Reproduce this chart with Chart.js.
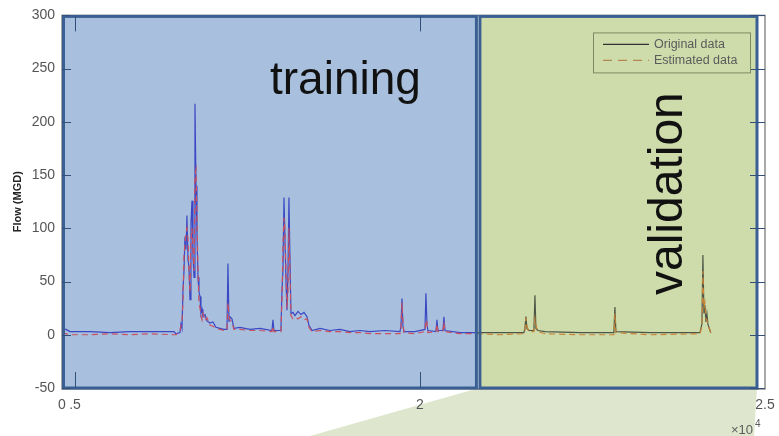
<!DOCTYPE html>
<html>
<head>
<meta charset="utf-8">
<script src="https://cdn.jsdelivr.net/npm/chart.js@4.4.0/dist/chart.umd.min.js"></script>
<style>
  html, body { margin: 0; padding: 0; background: #fff; }
  #wrap { width: 779px; height: 436px; }
</style>
</head>
<body>
<div id="wrap"><canvas id="flow-chart" width="779" height="436"></canvas></div>
<script>
// Sample index (x) and flow values
const sampleIndex = [
  14812, 14870, 14928, 15218, 15508, 15797, 16087, 16435, 16464, 16522,
  16536, 16551, 16565, 16580, 16594, 16609, 16623, 16638, 16652, 16667,
  16681, 16696, 16710, 16725, 16739, 16754, 16768, 16783, 16797, 16812,
  16826, 16841, 16855, 16884, 16913, 16957, 17000, 17043, 17101, 17159,
  17203, 17217, 17232, 17246, 17275, 17304, 17391, 17536, 17681, 17855,
  17869, 17884, 17985, 18000, 18014, 18029, 18043, 18058, 18072, 18087,
  18101, 18116, 18130, 18159, 18188, 18232, 18275, 18319, 18362, 18391,
  18435, 18550, 18695, 18840, 18985, 19130, 19275, 19492, 19710, 19724,
  19739, 19753, 19768, 19927, 20072, 20086, 20101, 20115, 20231, 20246,
  20260, 20333, 20347, 20362, 20579, 20825, 21159, 21506, 21521, 21535,
  21550, 21579, 21651, 21666, 21680, 21709, 21811, 22318, 22810, 22825,
  22839, 23332, 24057, 24086, 24100, 24115, 24129, 24144, 24158, 24173,
  24202, 24216
];
const originalFlow = [
  5, 5, 3, 3, 2, 3, 3, 3, 1, 2,
  10, 6, 42, 60, 92, 80, 112, 70, 64, 33,
  105, 126, 73, 54, 217, 140, 95, 54, 40, 36,
  20, 24, 17, 19, 13, 11, 12, 7, 6, 5,
  5, 67, 12, 17, 15, 6, 7, 5, 6, 4,
  14, 4, 4, 42, 60, 129, 90, 51, 23, 60,
  129, 70, 20, 21, 18, 22, 19, 21, 17, 9,
  4, 6, 4, 5, 3, 4, 3, 4, 3, 8,
  34, 8, 3, 3, 5, 39, 10, 4, 3, 14,
  4, 4, 17, 4, 2, 2, 2, 2, 6, 17,
  6, 4, 4, 37, 6, 4, 3, 2, 2, 26,
  3, 2, 2, 10, 75, 20, 28, 12, 20, 10,
  4, 2
];
const estimatedFlow = [
  1, 1, 0, 0, 1, 0, 1, 0, 0, 4,
  8, 12, 30, 75, 85, 96, 100, 90, 60, 40,
  90, 100, 80, 60, 150, 155, 110, 60, 30, 25,
  18, 14, 20, 13, 16, 9, 8, 6, 5, 4,
  4, 30, 18, 14, 12, 5, 5, 4, 4, 3,
  8, 3, 3, 35, 80, 110, 100, 60, 25, 40,
  100, 60, 18, 15, 16, 15, 17, 14, 15, 7,
  3, 4, 3, 3, 2, 2, 1, 1, 1, 5,
  30, 12, 2, 1, 3, 14, 12, 2, 3, 10,
  3, 3, 12, 3, 1, 1, 0, 1, 4, 16,
  8, 3, 3, 15, 9, 3, 1, 0, 0, 20,
  2, 0, 1, 8, 60, 25, 30, 15, 14, 8,
  5, 1
];
const seriesNames = ['Original data', 'Estimated data'];
const regionNames = ['training', 'validation'];
const splitIndex = 20825;
const xTickValues = [14812, 15000, 20000, 25000];
const xTickLabels = ['0', '.5', '2', '2.5'];
const yTickValues = [-50, 0, 50, 100, 150, 200, 250, 300];

const FONT = '"Liberation Sans", Arial, sans-serif';
const BORDER_BLUE = '#3a5f92';

const toPoints = values => values.map((v, i) => ({ x: sampleIndex[i], y: v }));
const inTraining = ctx => ctx.p0.parsed.x < splitIndex;

const panels = {
  id: 'panels',
  beforeDraw(chart) {
    const { ctx, chartArea: a, scales: { x } } = chart;
    const splitPx = x.getPixelForValue(splitIndex);
    ctx.save();
    ctx.fillStyle = '#fff';
    ctx.fillRect(0, 0, chart.width, chart.height);

    // light wedge under the validation panel
    ctx.fillStyle = '#dee7cd';
    ctx.beginPath();
    ctx.moveTo(splitPx + 2, a.bottom);
    ctx.lineTo(a.right - 8, a.bottom);
    ctx.lineTo(a.right - 11, chart.height);
    ctx.lineTo(310, chart.height);
    ctx.closePath();
    ctx.fill();

    // axes box
    ctx.strokeStyle = '#8c8c8c';
    ctx.lineWidth = 1.5;
    ctx.strokeRect(a.left, a.top, a.right - a.left, a.bottom - a.top + 1);

    ctx.fillStyle = '#a8c0de';
    ctx.fillRect(a.left, a.top, splitPx - a.left, a.bottom - a.top);
    ctx.fillStyle = '#cedcab';
    ctx.fillRect(splitPx + 2, a.top, a.right - 7 - (splitPx + 2), a.bottom - a.top);
    ctx.restore();
  },
  afterDatasetsDraw(chart) {
    const { ctx, chartArea: a, scales: { x, y } } = chart;
    const splitPx = x.getPixelForValue(splitIndex);
    ctx.save();
    ctx.strokeStyle = BORDER_BLUE;
    ctx.lineWidth = 3;
    ctx.strokeRect(a.left + 1.5, a.top + 1, splitPx - a.left - 2, a.bottom - a.top - 1);
    ctx.strokeRect(splitPx + 3, a.top + 1, a.right - 8 - (splitPx + 3), a.bottom - a.top - 1);

    // tick marks
    ctx.strokeStyle = '#33507a';
    ctx.lineWidth = 1;
    ctx.beginPath();
    yTickValues.forEach(v => {
      const py = Math.round(y.getPixelForValue(v)) + 0.5;
      ctx.moveTo(a.left, py); ctx.lineTo(a.left + 9, py);
      ctx.moveTo(a.right - 15, py); ctx.lineTo(a.right, py);
    });
    [15000, 20000].forEach(v => {
      const px = Math.round(x.getPixelForValue(v)) + 0.5;
      ctx.moveTo(px, a.bottom); ctx.lineTo(px, a.bottom - 16);
      ctx.moveTo(px, a.top); ctx.lineTo(px, a.top + 16);
    });
    ctx.stroke();
    ctx.restore();
  },
  afterDraw(chart) {
    const { ctx, chartArea: a } = chart;
    ctx.save();
    ctx.fillStyle = '#111';
    ctx.font = '46px ' + FONT;
    ctx.textBaseline = 'alphabetic';
    ctx.textAlign = 'left';
    ctx.fillText(regionNames[0], 270, 94);
    ctx.font = '48px ' + FONT;
    ctx.translate(682, 295);
    ctx.rotate(-Math.PI / 2);
    ctx.fillText(regionNames[1], 0, 0);
    ctx.restore();

    // legend
    ctx.save();
    const lx = a.right - 172, ly = a.top + 17;
    ctx.strokeStyle = '#7d8b63';
    ctx.lineWidth = 1;
    ctx.strokeRect(lx + 0.5, ly + 0.5, 157, 40);
    ctx.lineWidth = 1.2;
    ctx.strokeStyle = '#333';
    ctx.beginPath(); ctx.moveTo(lx + 10, ly + 12); ctx.lineTo(lx + 56, ly + 12); ctx.stroke();
    ctx.strokeStyle = '#b4874f';
    ctx.setLineDash([9, 6]);
    ctx.beginPath(); ctx.moveTo(lx + 10, ly + 28); ctx.lineTo(lx + 56, ly + 28); ctx.stroke();
    ctx.setLineDash([]);
    ctx.fillStyle = '#5b5b5b';
    ctx.font = '12.5px ' + FONT;
    ctx.textBaseline = 'middle';
    ctx.fillText(seriesNames[0], lx + 61, ly + 12);
    ctx.fillText(seriesNames[1], lx + 61, ly + 28);

    // exponent label
    ctx.font = '13px ' + FONT;
    ctx.textBaseline = 'alphabetic';
    ctx.fillText('\u00d710', 731, 434);
    ctx.font = '10px ' + FONT;
    ctx.fillText('4', 755, 427);
    ctx.restore();
  }
};

new Chart(document.getElementById('flow-chart'), {
  type: 'line',
  data: {
    datasets: [
      {
        label: seriesNames[1],
        data: toPoints(estimatedFlow),
        borderWidth: 1.2,
        borderDash: [6, 4],
        segment: { borderColor: ctx => inTraining(ctx) ? '#c9505e' : '#c98438' },
        borderColor: '#c9505e',
        pointRadius: 0
      },
      {
        label: seriesNames[0],
        data: toPoints(originalFlow),
        borderWidth: 1.2,
        segment: { borderColor: ctx => inTraining(ctx) ? '#3b47c4' : '#4b5646' },
        borderColor: '#3b47c4',
        pointRadius: 0
      }
    ]
  },
  options: {
    responsive: false,
    animation: false,
    layout: { padding: { top: 13, right: 14, left: 0, bottom: 0 } },
    plugins: { legend: { display: false }, tooltip: { enabled: false } },
    elements: { line: { tension: 0 } },
    scales: {
      x: {
        type: 'linear',
        min: 14812,
        max: 25000,
        grid: { display: false, drawTicks: false },
        border: { display: false },
        afterBuildTicks: scale => { scale.ticks = xTickValues.map(v => ({ value: v })); },
        afterFit: scale => {
          scale.height = 48;
          scale.paddingLeft = 0;
          scale.paddingRight = 0;
        },
        ticks: {
          autoSkip: false,
          maxRotation: 0,
          padding: 9,
          color: '#555',
          font: { family: FONT, size: 14 },
          callback: (v) => xTickLabels[xTickValues.indexOf(v)]
        }
      },
      y: {
        min: -50,
        max: 300,
        grid: { display: false, drawTicks: false },
        border: { display: false },
        afterBuildTicks: scale => { scale.ticks = yTickValues.map(v => ({ value: v })); },
        afterFit: scale => { scale.width = 62; },
        ticks: {
          padding: 7,
          color: '#555',
          font: { family: FONT, size: 14 }
        },
        title: {
          display: true,
          text: 'Flow (MGD)',
          color: '#222',
          font: { family: FONT, size: 11, weight: 'bold' },
          padding: { top: 11, bottom: 0 }
        }
      }
    }
  },
  plugins: [panels]
});
</script>
</body>
</html>
